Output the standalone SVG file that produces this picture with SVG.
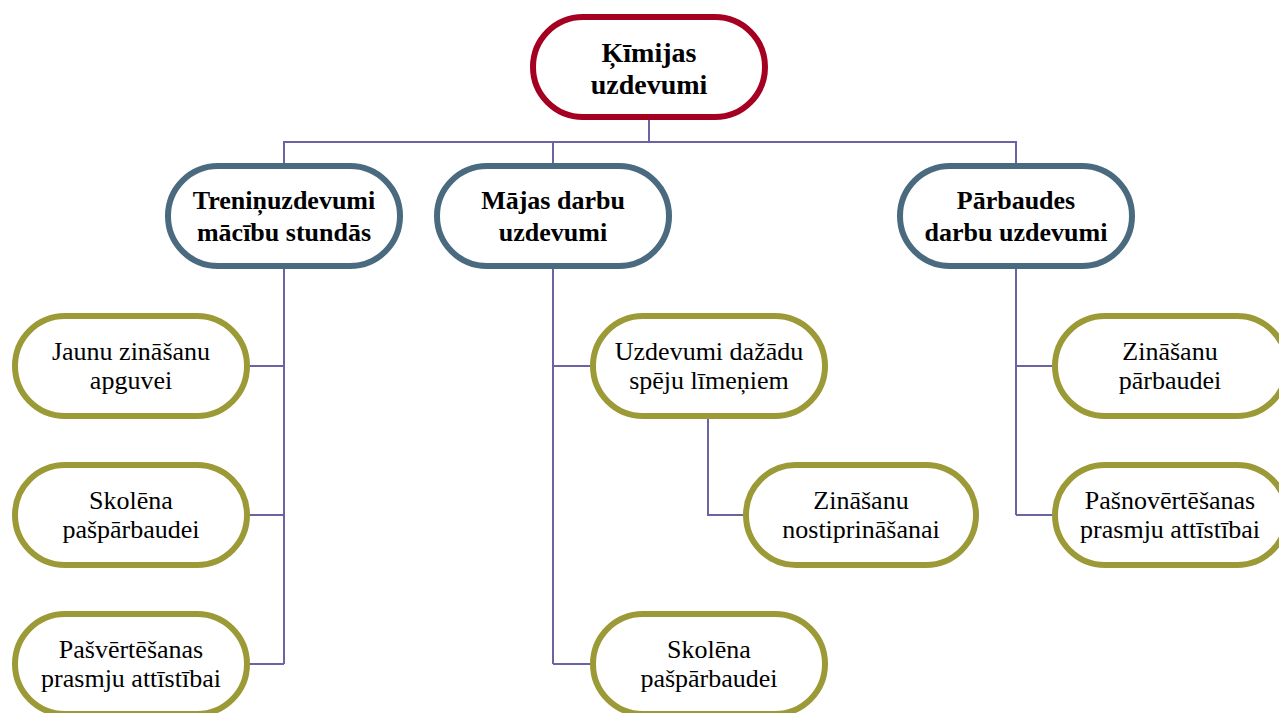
<svg xmlns="http://www.w3.org/2000/svg" width="1279" height="713" viewBox="0 0 1279 713">
  <style>
    .node { fill: #ffffff; stroke-width: 6; }
    .root { stroke: #A50021; }
    .mid { stroke: #4A6A80; }
    .leaf { stroke: #9B9A36; }
    .wire { fill: none; stroke: #6B63A3; stroke-width: 2; }
    text { fill: #000000; text-anchor: middle; }
    .b { font-weight: bold; font-size: 26px; }
    .t { font-weight: bold; font-size: 28px; }
    .r { font-size: 26px; }
  </style>

  <!-- connectors -->
  <g id="connectors">
    <path class="wire" d="M649 117 V142 M284 166 V142 H1016 V166 M553 142 V166"/>
    <path class="wire" d="M284 266 V664 M245 366 H284 M245 515 H284 M245 664 H284"/>
    <path class="wire" d="M553 266 V664 M553 366 H593 M553 664 H593"/>
    <path class="wire" d="M708 416 V515 H746"/>
    <path class="wire" d="M1016 266 V515 M1016 366 H1055 M1016 515 H1055"/>
  </g>

  <g font-family="Liberation Serif, Tinos, DejaVu Serif, serif">
  <!-- root -->
  <g id="kimijas-uzdevumi">
    <rect class="node root" x="533" y="17" width="232" height="100" rx="50"/>
    <text class="t" x="649" y="62">Ķīmijas</text>
    <text class="t" x="649" y="94">uzdevumi</text>
  </g>

  <!-- second level -->
  <g id="treninuzdevumi">
    <rect class="node mid" x="168" y="166" width="232" height="100" rx="50"/>
    <text class="b" x="284" y="209">Treniņuzdevumi</text>
    <text class="b" x="284" y="241">mācību stundās</text>
  </g>
  <g id="majas-darbu">
    <rect class="node mid" x="437" y="166" width="232" height="100" rx="50"/>
    <text class="b" x="553" y="209">Mājas darbu</text>
    <text class="b" x="553" y="241">uzdevumi</text>
  </g>
  <g id="parbaudes-darbu">
    <rect class="node mid" x="900" y="166" width="232" height="100" rx="50"/>
    <text class="b" x="1016" y="209">Pārbaudes</text>
    <text class="b" x="1016" y="241">darbu uzdevumi</text>
  </g>

  <!-- leaves: training tasks -->
  <g id="jaunu-zinasanu">
    <rect class="node leaf" x="15" y="316" width="232" height="100" rx="50"/>
    <text class="r" x="131" y="360">Jaunu zināšanu</text>
    <text class="r" x="131" y="389">apguvei</text>
  </g>
  <g id="skolena-pasparbaudei-1">
    <rect class="node leaf" x="15" y="465" width="232" height="100" rx="50"/>
    <text class="r" x="131" y="509">Skolēna</text>
    <text class="r" x="131" y="538">pašpārbaudei</text>
  </g>
  <g id="pasvertesanas">
    <rect class="node leaf" x="15" y="614" width="232" height="100" rx="50"/>
    <text class="r" x="131" y="658">Pašvērtēšanas</text>
    <text class="r" x="131" y="687">prasmju attīstībai</text>
  </g>

  <!-- leaves: homework -->
  <g id="uzdevumi-dazadu">
    <rect class="node leaf" x="593" y="316" width="232" height="100" rx="50"/>
    <text class="r" x="709" y="360">Uzdevumi dažādu</text>
    <text class="r" x="709" y="389">spēju līmeņiem</text>
  </g>
  <g id="zinasanu-nostiprinasanai">
    <rect class="node leaf" x="746" y="465" width="230" height="100" rx="50"/>
    <text class="r" x="861" y="509">Zināšanu</text>
    <text class="r" x="861" y="538">nostiprināšanai</text>
  </g>
  <g id="skolena-pasparbaudei-2">
    <rect class="node leaf" x="593" y="614" width="232" height="100" rx="50"/>
    <text class="r" x="709" y="658">Skolēna</text>
    <text class="r" x="709" y="687">pašpārbaudei</text>
  </g>

  <!-- leaves: test work -->
  <g id="zinasanu-parbaudei">
    <rect class="node leaf" x="1055" y="316" width="232" height="100" rx="50"/>
    <text class="r" x="1170" y="360">Zināšanu</text>
    <text class="r" x="1170" y="389">pārbaudei</text>
  </g>
  <g id="pasnovertesanas">
    <rect class="node leaf" x="1055" y="465" width="232" height="100" rx="50"/>
    <text class="r" x="1170" y="509">Pašnovērtēšanas</text>
    <text class="r" x="1170" y="538">prasmju attīstībai</text>
  </g>
  </g>
</svg>
